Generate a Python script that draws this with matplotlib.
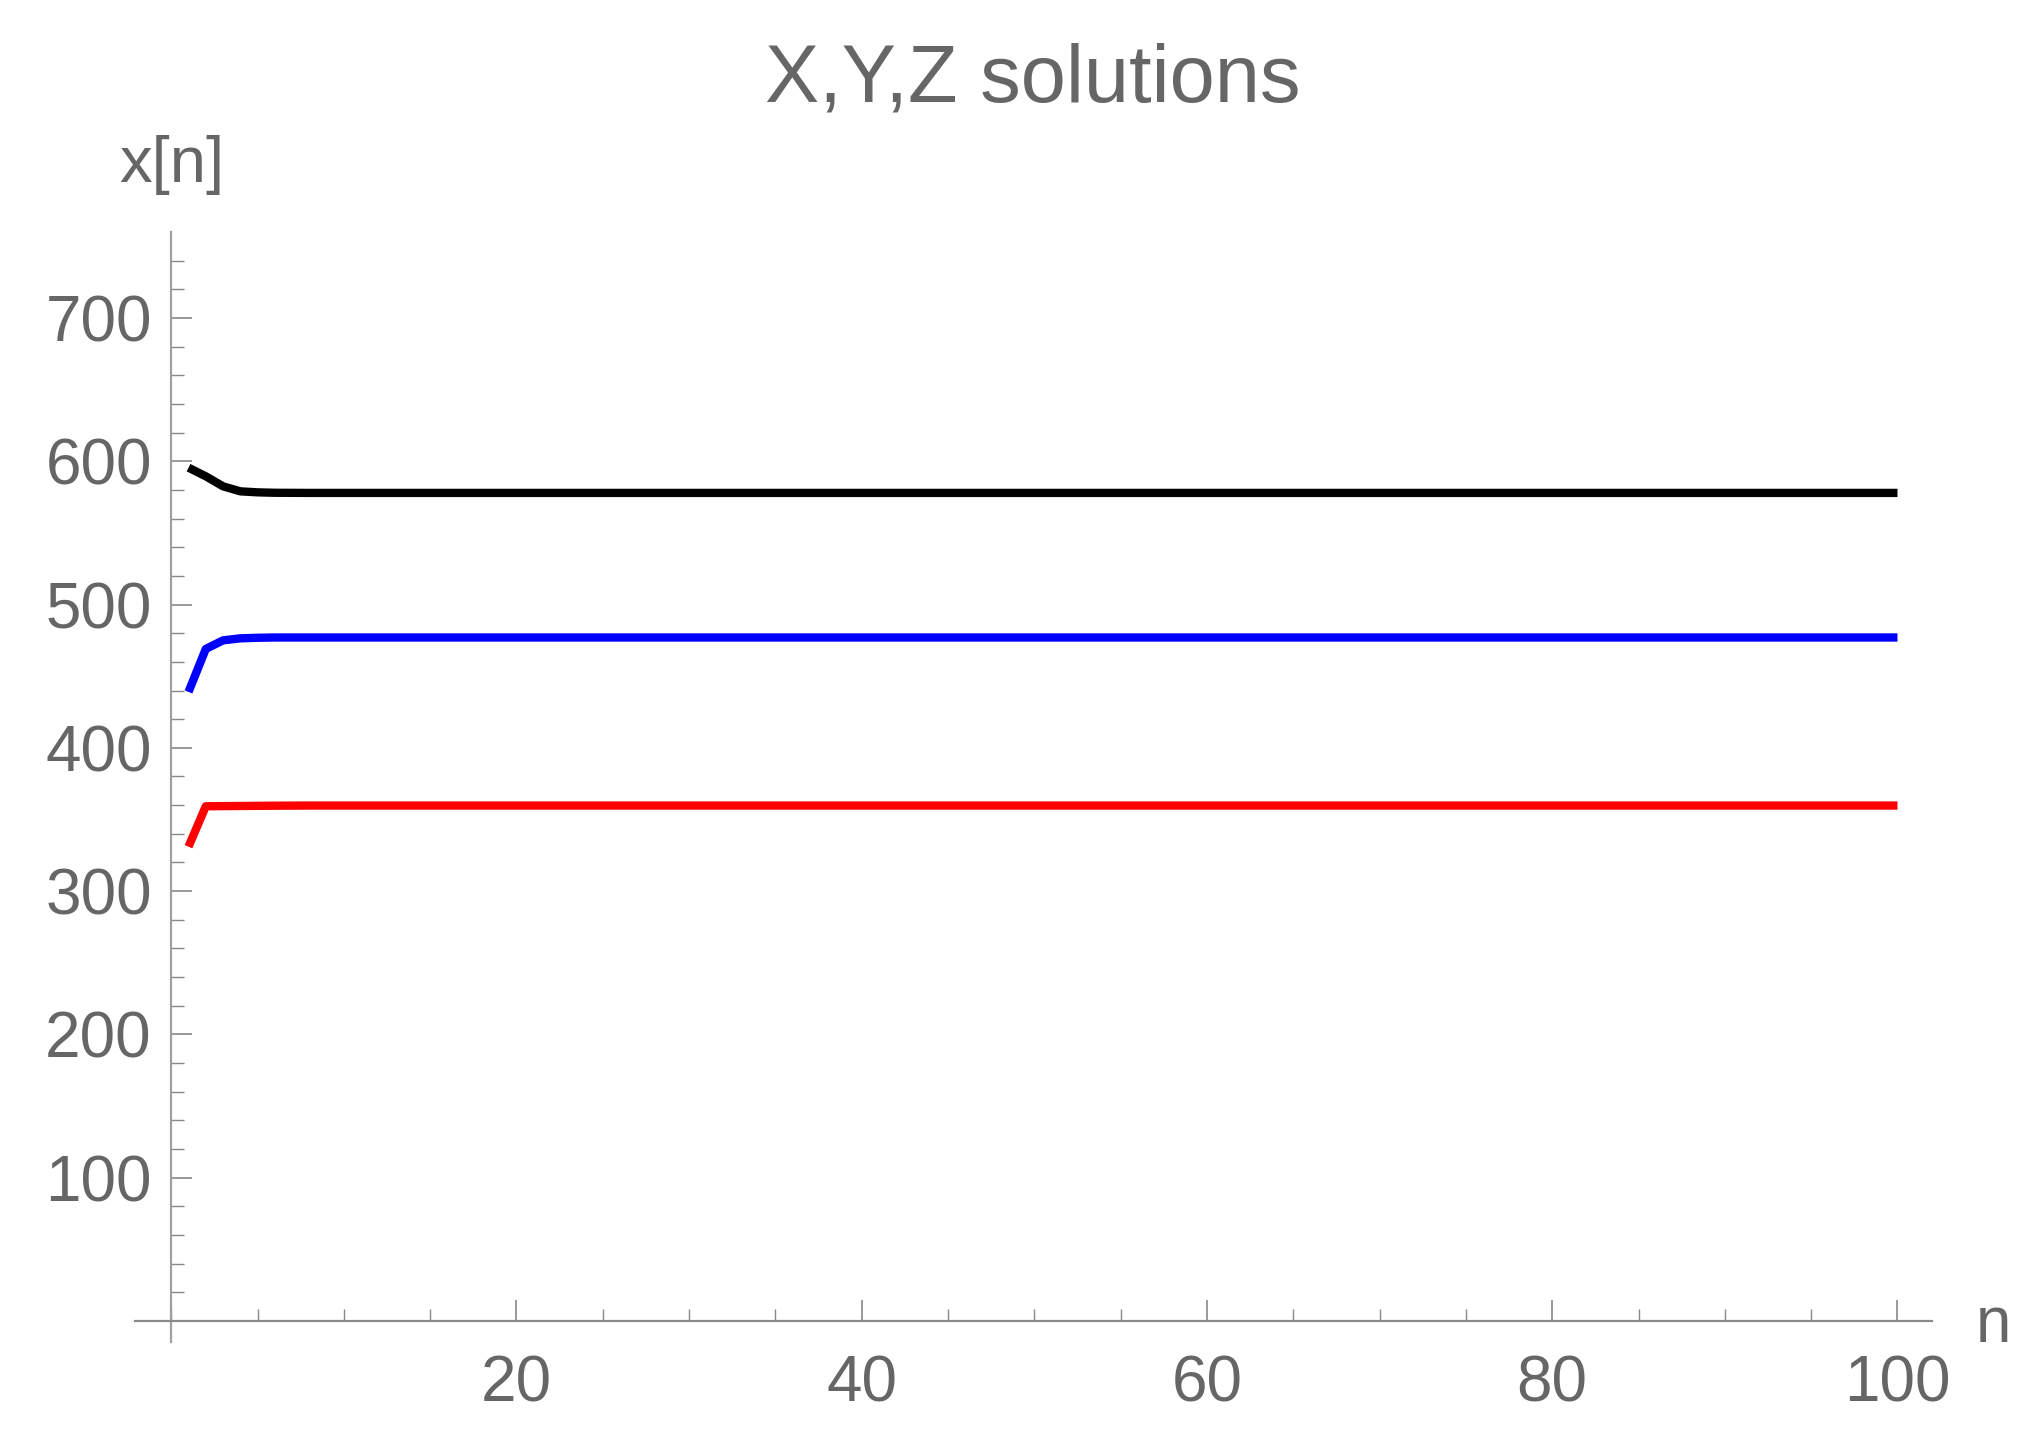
import matplotlib.pyplot as plt
from matplotlib.ticker import MultipleLocator

# values (series settle to a constant after n~6)
n = [1, 2, 3, 4, 5, 6, 8, 100]
x_black = [595.5, 589.5, 582.5, 579.0, 578.3, 578.0, 577.9, 577.9]
x_blue = [439.0, 469.0, 475.0, 476.4, 476.8, 477.0, 477.0, 477.0]
x_red = [331.0, 359.2, 359.3, 359.4, 359.5, 359.6, 359.7, 359.7]

grey = '#666666'
plt.rcParams['font.family'] = ['Liberation Sans', 'DejaVu Sans']

fig = plt.figure(figsize=(20.37, 14.46), dpi=100)
ax = fig.add_axes([135/2037, 1 - 1342/1446, (1932-135)/2037, (1342-232)/1446])

ax.plot(n, x_black, color='black', lw=6, solid_capstyle='butt')
ax.plot(n, x_blue, color='#0000ff', lw=6, solid_capstyle='butt')
ax.plot(n, x_red, color='#ff0000', lw=6, solid_capstyle='butt')

ax.set_xlim(-2.1, 102.0)
ax.set_ylim(-14.7, 760)

for s in ['top', 'right']:
    ax.spines[s].set_visible(False)
ax.spines['left'].set_position(('data', 0))
ax.spines['bottom'].set_position(('data', 0))
ax.spines['left'].set_color('#a0a0a0')
ax.spines['bottom'].set_color('#8a8a8a')
ax.spines['left'].set_linewidth(1.6)
ax.spines['bottom'].set_linewidth(1.6)

ax.set_xticks([20, 40, 60, 80, 100])
ax.xaxis.set_minor_locator(MultipleLocator(5))
ax.set_yticks([100, 200, 300, 400, 500, 600, 700])
ax.set_yticks(range(20, 760, 20), minor=True)

ax.tick_params(which='major', direction='in', length=15, width=1.2, color='#888888',
               labelsize=46, labelcolor=grey)
ax.tick_params(which='minor', direction='in', length=9, width=1.0, color='#888888')
ax.tick_params(axis='y', which='major', pad=14)
ax.tick_params(axis='x', which='major', pad=24)

fig.text(1033/2037, 1 - 80/1446, 'X,Y,Z solutions', ha='center', va='center',
         fontsize=58.5, color=grey)
fig.text(172/2037, 1 - 165/1446, 'x[n]', ha='center', va='center', fontsize=47, color=grey)
fig.text(1994/2037, 1 - 1325/1446, 'n', ha='center', va='center', fontsize=46, color=grey)

fig.savefig('out.png', dpi=100)
